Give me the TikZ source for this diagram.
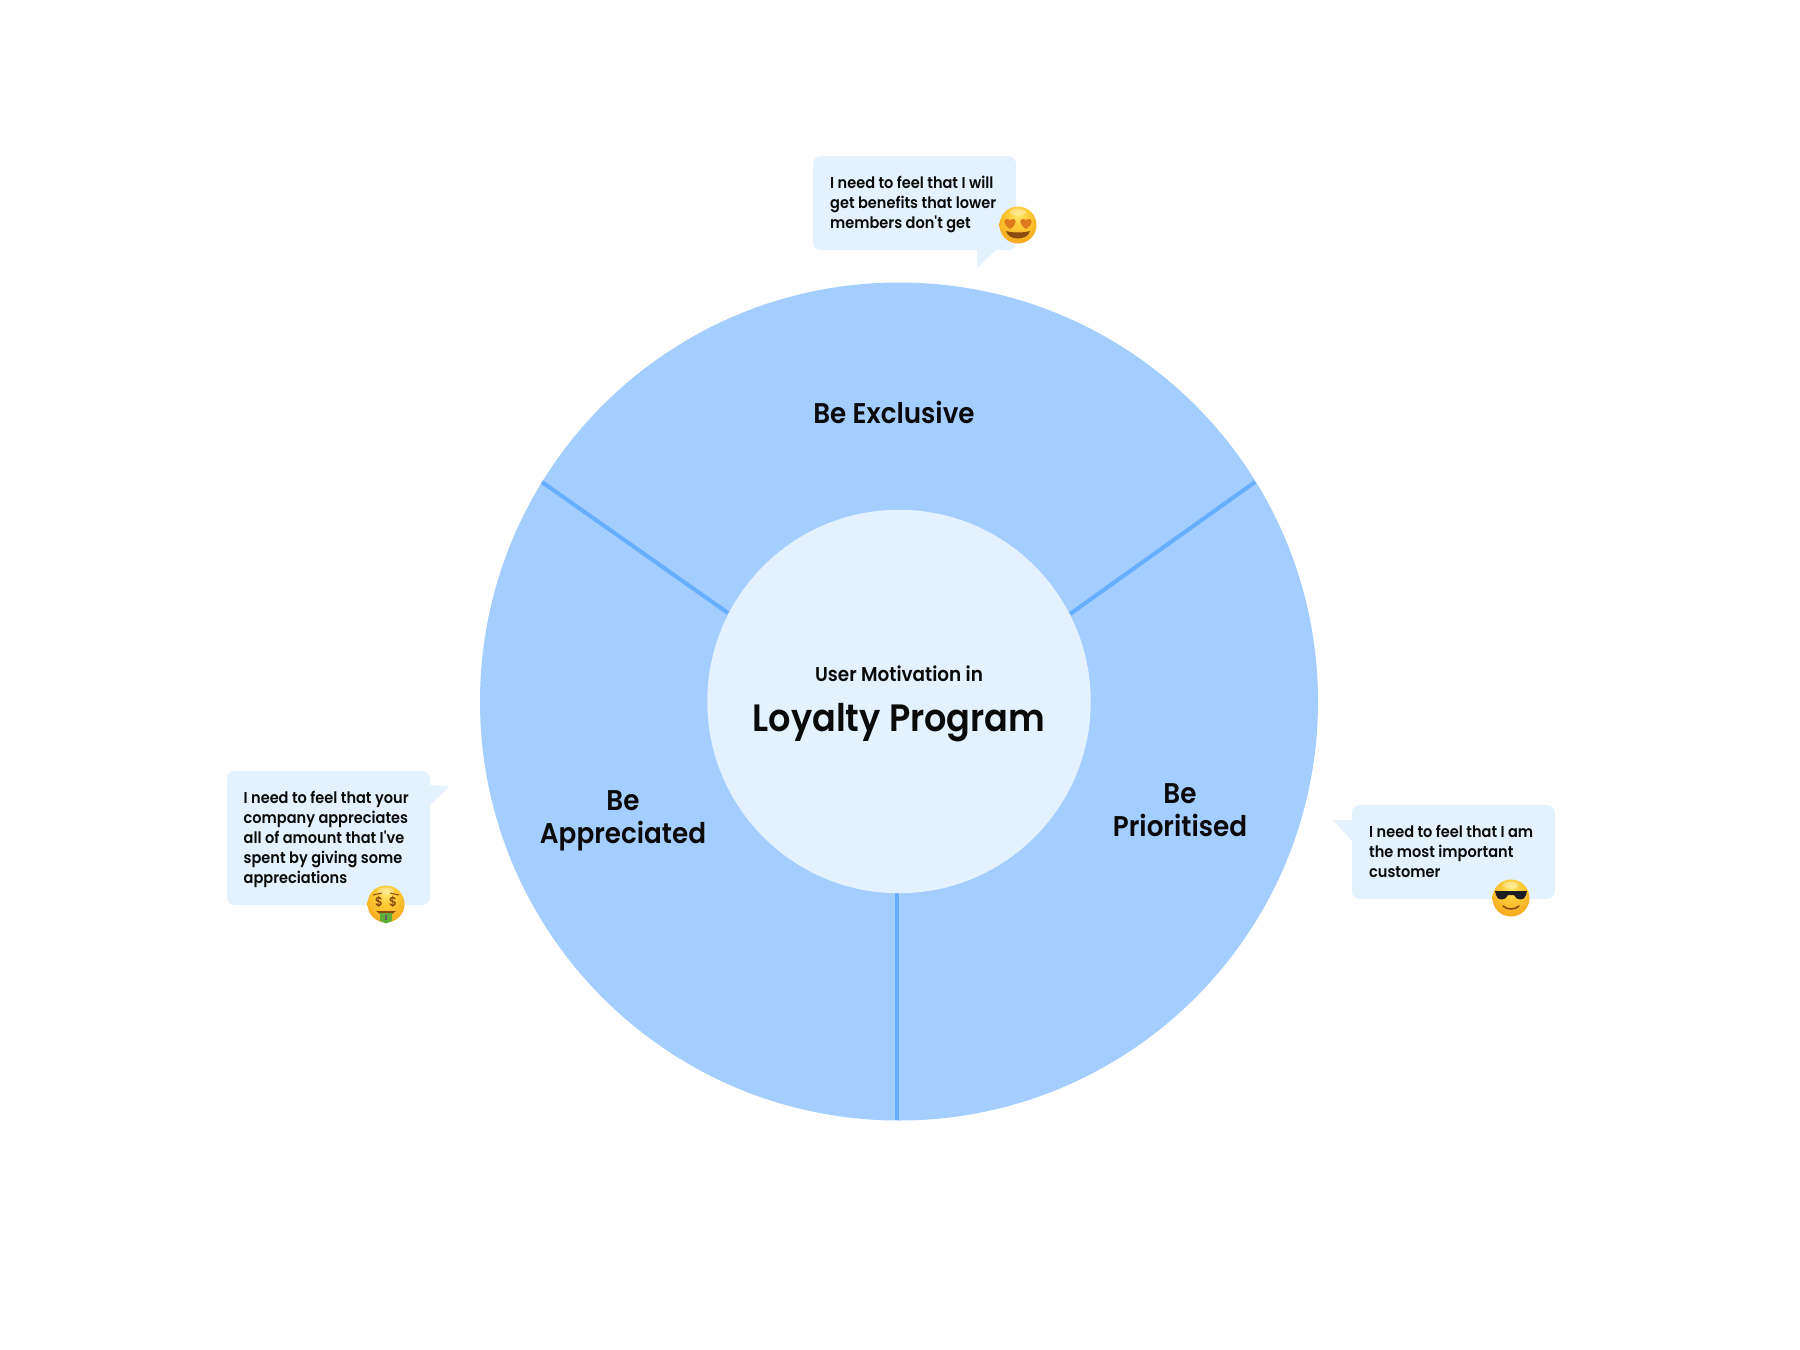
\documentclass[tikz,border=0pt]{standalone}
\usepackage{fontspec}
\newfontfamily\uifont{Poppins SemiBold}[FakeStretch=0.92]
\definecolor{ringblue}{HTML}{A3CEFF}
\definecolor{divider}{HTML}{66AEFF}
\definecolor{paleblue}{HTML}{E4F1FE}
\definecolor{inkblack}{HTML}{0A0A0A}
\definecolor{heartorange}{HTML}{DD7A1E}
\definecolor{mouthbrown}{HTML}{8A4A10}
\definecolor{noteGreen}{HTML}{5FAE3A}
\definecolor{shadeblack}{HTML}{1C1C24}
\definecolor{faceA}{HTML}{FFE870}
\definecolor{faceB}{HTML}{FFCE3A}
\definecolor{faceC}{HTML}{F6AC1E}
\definecolor{faceD}{HTML}{E07F10}
% sunlit face: the highlight sits above the middle of the disc
\pgfdeclareradialshading{facelight}{\pgfpoint{0bp}{14bp}}{%
  color(0bp)=(faceA);
  color(12bp)=(faceB);
  color(32bp)=(faceC);
  color(50bp)=(faceD);
  color(100bp)=(faceD)}
\tikzset{
  x=1pt,y=-1pt,
  bubble/.style={fill=paleblue,rounded corners=8pt},
  bubbletext/.style={anchor=north west,align=left,inner sep=0pt,text=inkblack,
    font=\uifont\fontsize{15.8}{20}\selectfont},
  motive/.style={anchor=base,align=center,inner sep=0pt,text=inkblack,
    font=\uifont\fontsize{28.5}{33}\selectfont},
  splitline/.style={draw=divider,line width=4pt},
}
\newcommand{\emojiface}{%
  \shade[shading=facelight] (0,0) circle (18.5);
  \fill[white,opacity=.3] (0,-13) ellipse (8 and 3.5);
}
\begin{document}
\begin{tikzpicture}
\useasboundingbox (0,0) rectangle (1800,1350);
\fill[white] (0,0) rectangle (1800,1350);

% outer ring and centre disc
\fill[ringblue] (899,701.5) circle (419);
\coordinate (tl) at (542,482);
\coordinate (tr) at (1255,482);
\coordinate (bt) at (897,1120);
\coordinate (itl) at (728,613);
\coordinate (itr) at (1070,614);
\coordinate (ibt) at (897,890);
\draw[splitline] (tl) -- (itl);
\draw[splitline] (tr) -- (itr);
\draw[splitline] (bt) -- (ibt);
\node[circle,fill=paleblue,minimum size=383.5pt,inner sep=0pt] (hub) at (899,701.5) {};

% centre title
\node[anchor=base,inner sep=0pt,text=inkblack,font=\uifont\fontsize{20}{24}\selectfont] (hubsub) at (899,681) {User Motivation in};
\node[anchor=base,inner sep=0pt,text=inkblack,font=\uifont\fontsize{38.1}{46}\selectfont] (hubtitle) at (899,731) {Loyalty Program};

% segment labels
\node[motive] (exclusive) at (894,423) {Be Exclusive};
\node[motive] (appreciated) at (623,843) {Be\\Appreciated};
\node[motive] (prioritised) at (1180,836) {Be\\Prioritised};

% speech bubbles
\fill[paleblue,rounded corners=1pt] (977,246) -- (977,268) -- (1000,246) -- cycle;
\fill[bubble] (813,156) rectangle (1016,250);
\node[bubbletext] (noteA) at (830,176) {I need to feel that I will\\get benefits that lower\\members don't get};

\fill[paleblue,rounded corners=1pt] (426,785) -- (449,786) -- (426,809) -- cycle;
\fill[bubble] (227,771) rectangle (430,905);
\node[bubbletext] (noteB) at (243.500,791) {I need to feel that your\\company appreciates\\all of amount that I've\\spent by giving some\\appreciations};

\fill[paleblue,rounded corners=1pt] (1356,820) -- (1333,820) -- (1356,845) -- cycle;
\fill[bubble] (1352,805) rectangle (1555,899);
\node[bubbletext] (noteC) at (1369,825) {I need to feel that I am\\the most important\\customer};

% heart-eyes face
\begin{scope}[shift={(1018,225)}]
  \emojiface
  \fill[heartorange] (-8,4) .. controls (-16,-1) and (-15,-9) .. (-8,-5) .. controls (-1,-9) and (0,-1) .. (-8,4) -- cycle;
  \fill[heartorange] (8,4) .. controls (16,-1) and (15,-9) .. (8,-5) .. controls (1,-9) and (0,-1) .. (8,4) -- cycle;
  \fill[mouthbrown] (-12,6) .. controls (-6,8) and (6,8) .. (12,6) .. controls (10,16) and (-10,16) .. (-12,6) -- cycle;
\end{scope}

% money-mouth face
\begin{scope}[shift={(386,904)}]
  \emojiface
  \draw[mouthbrown,line width=1pt] (-13,-9) -- (-4,-11) (4,-11) -- (13,-9);
  \node[text=mouthbrown,inner sep=0pt,font=\uifont\fontsize{13}{13}\selectfont] (dollarL) at (-7,-2) {\$};
  \node[text=mouthbrown,inner sep=0pt,font=\uifont\fontsize{13}{13}\selectfont] (dollarR) at (7,-2) {\$};
  \fill[mouthbrown] (-10,7) -- (10,7) -- (6,10) -- (-6,10) -- cycle;
  \fill[noteGreen] (-6,9) -- (6,9) -- (6,17) -- (0,19.500) -- (-6,17) -- cycle;
  \fill[shadeblack!70] (-1,11) rectangle (1,16);
\end{scope}

% sunglasses face
\begin{scope}[shift={(1511,898)}]
  \emojiface
  \fill[shadeblack] (-16,-7) -- (16,-7) -- (15,-3) .. controls (14,3) and (5,3) .. (3,-3) -- (-3,-3) .. controls (-5,3) and (-14,3) .. (-15,-3) -- cycle;
  \draw[mouthbrown,line width=1.6pt,line cap=round] (-8,8) .. controls (-4,12) and (4,12) .. (8,8);
\end{scope}
\end{tikzpicture}
\end{document}
